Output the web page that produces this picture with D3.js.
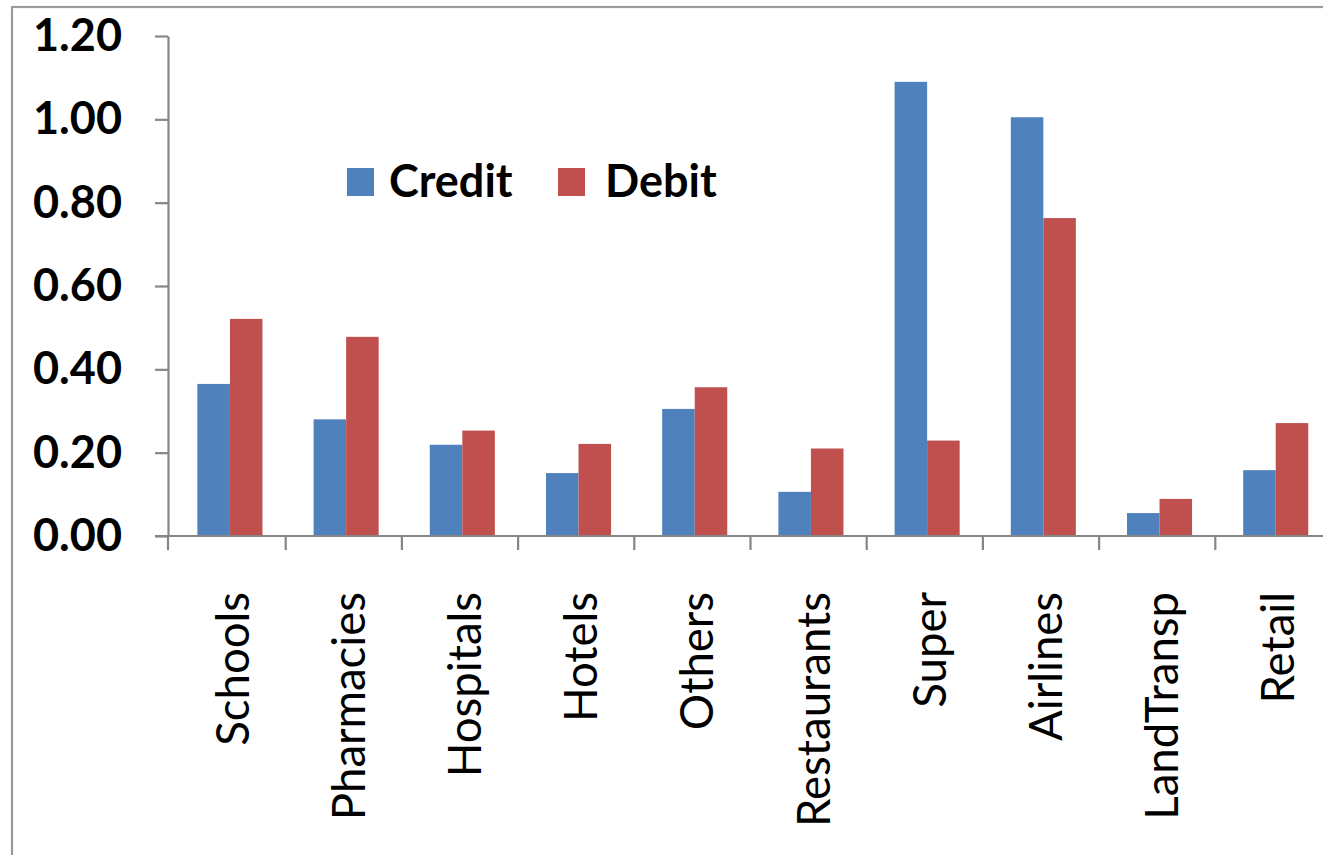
<!DOCTYPE html>
<html>
<head>
<meta charset="utf-8">
<script src="https://cdn.jsdelivr.net/npm/d3@7"></script>
<style>
html,body{margin:0;padding:0;background:#fff;overflow:hidden;}
svg{display:block;}
</style>
</head>
<body>
<script>
const categories = ["Schools","Pharmacies","Hospitals","Hotels","Others","Restaurants","Super","Airlines","LandTransp","Retail"];
const seriesNames = ["Credit","Debit"];
const creditValues = [0.365,0.280,0.219,0.151,0.305,0.106,1.090,1.005,0.055,0.158];
const debitValues  = [0.521,0.478,0.253,0.221,0.357,0.210,0.229,0.763,0.089,0.271];
const yTicks = [0,0.2,0.4,0.6,0.8,1.0,1.2];
const colors = {Credit:"#4F81BD", Debit:"#C0504D"};

const W = 1323, H = 855;
const font = "Lato, 'Open Sans', sans-serif";
const svg = d3.select("body").append("svg").attr("width",W).attr("height",H);

// outer chart border (cropped on right/bottom)
svg.append("rect").attr("x",12).attr("y",7).attr("width",W+20).attr("height",H+20)
  .attr("fill","none").attr("stroke","#9a9a9a").attr("stroke-width",2.2);

const axisX = 168, y0 = 536;
const x = d3.scaleBand().domain(categories).range([169.5, 169.5 + 116.2*categories.length]);
const bw = x.bandwidth();
const xs = d3.scaleBand().domain(seriesNames).range([bw*0.24, bw*0.80]);
const y = d3.scaleLinear().domain([0,1.2]).range([y0, 36]);

const data = categories.map((c,i)=>({cat:c, Credit:creditValues[i], Debit:debitValues[i]}));

// bars
const g = svg.append("g");
g.selectAll("g.cat").data(data).join("g").attr("class","cat")
  .attr("transform", d=>`translate(${x(d.cat)},0)`)
  .selectAll("rect").data(d=>seriesNames.map(s=>({s, v:d[s]}))).join("rect")
  .attr("x", d=>xs(d.s)).attr("width", xs.bandwidth())
  .attr("y", d=>y(d.v)).attr("height", d=>y0 - y(d.v))
  .attr("fill", d=>colors[d.s]);

// y axis
const yAxis = svg.append("g").attr("transform",`translate(${axisX},0)`)
  .call(d3.axisLeft(y).tickValues(yTicks).tickFormat(d3.format(".2f")).tickSize(13).tickPadding(33).tickSizeOuter(0));
yAxis.select(".domain").attr("stroke","#868686").attr("stroke-width",2.2);
yAxis.selectAll(".tick line").attr("stroke","#868686").attr("stroke-width",2.2);
yAxis.selectAll(".tick text").attr("font-family",font).attr("font-size",45).attr("font-weight","bold").attr("fill","#000");

// x axis line
const xEdge = d3.scaleLinear().domain([0, categories.length]).range(x.range());
svg.append("line").attr("x1",axisX-13).attr("x2",W+10).attr("y1",y0).attr("y2",y0)
  .attr("stroke","#868686").attr("stroke-width",2.2);
svg.append("g").selectAll("line").data(d3.range(categories.length+1)).join("line")
  .attr("x1",(d)=> d===0 ? axisX : xEdge(d)).attr("x2",(d)=> d===0 ? axisX : xEdge(d))
  .attr("y1",y0).attr("y2",y0+14).attr("stroke","#868686").attr("stroke-width",2.2);

// x labels
svg.append("g").selectAll("text").data(categories).join("text")
  .attr("transform", d=>`translate(${x(d)+bw/2+21},592) rotate(-90)`)
  .attr("text-anchor","end")
  .attr("font-family",font).attr("font-size",45.5).attr("fill","#000")
  .text(d=>d);

// legend
const legend = [{name:"Credit", sx:347, tx:389},{name:"Debit", sx:558, tx:605}];
const lg = svg.append("g");
lg.selectAll("rect").data(legend).join("rect")
  .attr("x",d=>d.sx).attr("y",168).attr("width",27).attr("height",28)
  .attr("fill",d=>colors[d.name]);
lg.selectAll("text").data(legend).join("text")
  .attr("x",d=>d.tx).attr("y",197)
  .attr("font-family",font).attr("font-size",45).attr("font-weight","bold").attr("fill","#000")
  .text(d=>d.name);
</script>
</body>
</html>
